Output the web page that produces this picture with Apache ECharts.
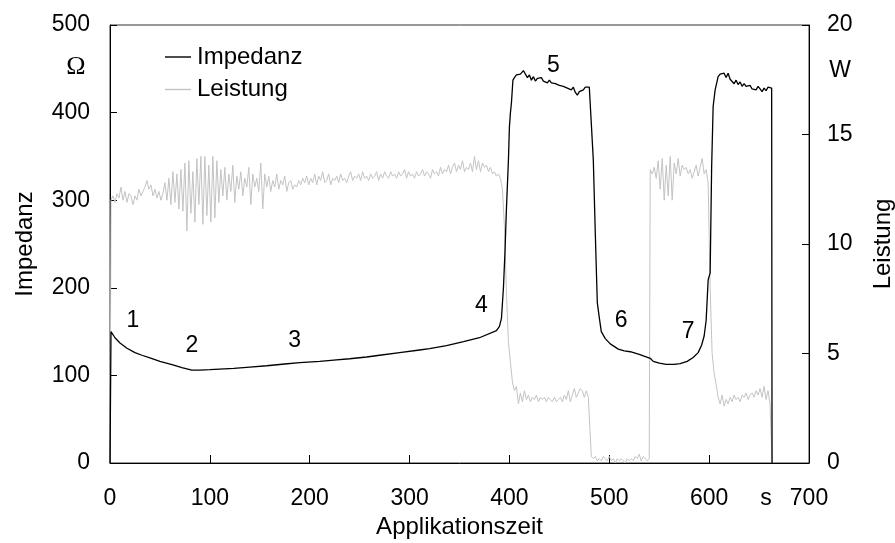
<!DOCTYPE html>
<html>
<head>
<meta charset="utf-8">
<script src="https://cdn.jsdelivr.net/npm/echarts@6/dist/echarts.min.js"></script>
<style>html,body{margin:0;padding:0;background:#fff;}#c{width:895px;height:543px;}</style>
</head>
<body>
<div id="c"></div>
<script>
// ---- data ----
const xTicks = [0, 100, 200, 300, 400, 500, 600, 700];
const impedanzZeit = [0,1,5,10,17,25,32,40,50,63,72,82,90,100,124,140,157,175,190,210,224,240,257,270,290,310,320,337,354,370,387,390,392,394,395.5,397,399,400,401,402,403.5,405,407,409,411,413,414,416,418,420,422,424,426,428,430,432,434,436,438,440,442,444,446,448,450,452,454,456,458,460,462,464,466,468,470,472,474,476,478,480,482,484,486,488,490,492,496,501,509,515,521,530,541,544,550,557,565,571,578,584,589,592.5,595,597,599,601,602.5,604,606,608,609,611,613,615,617,619,621,623,625,627,629,631,633,635,637,639,641,643,645,647,649,651,653,655,657,659,661,662.6,663];
const impedanzWert = [0,150,143,137,131,126,123,120,116,112,109,106,106,106.5,108,109.5,111,113,114.5,116,117.5,119,121,123,126,129,130.5,134,138.5,143,151,156,165,200,240,290,346,384,400,411,437,440,443,441,444,446,448,444,440,443,437,441,436,439,437,440,436,438,434,437,434,436,433,435,431,433,430,432,428,430,426,429,423,420,424,422,426,429,428,429,428,346,262,183,166,150,142,136,130,128,127,124,119.5,116,114,112.5,112.5,113.5,116,120.5,126,134.7,145,163,209,217,338,407,426,436,441,444,442,445,440,445,438,436,433,437,432,435,430,433,430,428,431,427,429,426,430,427,424,428,425,429,427,428,0];
const leistungZeit = [0,1,3,5,7,9,11,13,15,17,19,21,23,25,27,29,31,33,35,37,39,41,43,45,47,49,51,53,55,57,59,61,63,65,67,69,71,73,75,77,79,81,83,85,87,89,91,93,95,97,99,101,103,105,107,109,111,113,115,117,119,121,123,125,127,129,131,133,135,137,139,141,143,145,147,149,151,153,155,157,159,161,163,165,167,169,171,173,175,177,179,181,183,185,187,189,191,193,195,197,199,201,203,205,207,209,211,213,215,217,219,221,223,225,227,229,231,233,235,237,239,241,243,245,247,249,251,253,255,257,259,261,263,265,267,269,271,273,275,277,279,281,283,285,287,289,291,293,295,297,299,301,303,305,307,309,311,313,315,317,319,321,323,325,327,329,331,333,335,337,339,341,343,345,347,349,351,353,355,357,359,361,363,365,367,369,371,373,375,377,379,381,383,385,387,389,391,393,395,397,399,401,403,405,407,409,411,413,415,417,419,421,423,425,427,429,431,433,435,437,439,441,443,445,447,449,451,453,455,457,459,461,463,465,467,469,471,473,475,477,479,481,482,484,486,488,490,492,494,496,498,500,502,504,506,508,510,512,514,516,518,520,522,524,526,528,530,532,534,536,538,540,541,543,545,547,549,551,553,555,557,559,561,563,565,567,569,571,573,575,577,579,581,583,585,587,589,591,593,595,597,599,601,603,605,607,609,611,613,615,617,619,621,623,625,627,629,631,633,635,637,639,641,643,645,647,649,651,653,655,657,659,661,663,664];
const leistungWert = [0,12.0,12.2,11.9,12.3,12.1,12.6,12.0,12.4,11.9,12.3,12.2,11.8,12.2,12.0,12.5,12.2,12.4,12.6,12.9,12.5,12.7,12.2,12.5,12.1,12.4,12.0,12.3,12.8,12.0,13.0,11.8,13.3,11.9,13.2,11.6,13.4,11.5,13.7,10.6,13.8,11.4,13.3,11.0,13.9,11.8,14.0,10.9,14.0,11.3,13.6,11.0,14.0,11.2,13.8,11.9,13.4,12.2,13.5,12.0,13.2,12.4,13.6,11.9,13.1,12.5,13.3,12.2,13.0,12.6,13.5,11.8,13.2,12.6,13.0,12.4,13.7,11.6,13.2,12.6,13.1,12.4,12.9,12.6,13.2,12.5,12.9,12.7,13.1,12.4,12.8,12.9,12.5,12.7,12.6,12.9,12.7,13.0,12.8,13.1,12.7,13.0,12.8,13.2,12.7,13.1,12.9,13.3,12.8,12.9,13.2,12.7,13.0,12.9,13.1,12.8,13.2,12.9,13.0,12.8,13.1,13.3,12.9,13.1,13.0,13.2,12.9,13.3,13.0,13.1,12.9,13.2,13.0,13.1,13.3,12.9,13.2,13.0,13.3,13.1,13.0,13.3,13.1,13.2,13.0,13.3,13.1,13.2,13.4,13.0,13.3,13.1,13.2,13.0,13.3,13.1,13.2,13.4,13.1,13.3,13.2,13.0,13.4,13.2,13.3,13.1,13.5,13.2,13.4,13.3,13.6,13.2,13.5,13.7,13.3,13.6,13.4,13.8,13.3,13.5,13.4,13.7,13.3,14.0,13.4,13.8,13.3,13.7,13.5,13.6,13.3,13.5,13.2,13.3,13.1,13.2,13.0,12.5,10.8,7.8,5.5,4.6,3.7,3.3,3.5,2.7,3.2,2.8,3.3,2.9,3.1,2.8,3.0,2.9,3.1,2.8,3.0,2.9,3.0,2.8,3.0,2.9,2.8,3.0,2.8,2.9,3.0,2.8,3.1,2.9,3.3,2.8,3.1,3.4,3.0,3.2,3.4,3.3,3.0,3.3,3.0,3.0,0.3,0.2,0.3,0.1,0.2,0.1,0.3,0.2,0.1,0.3,0.1,0.2,0.0,0.2,0.1,0.2,0.1,0.0,0.2,0.1,0.2,0.1,0.3,0.2,0.4,0.1,0.3,0.2,0.1,0.2,13.4,13.2,13.5,13.0,13.8,12.5,13.9,12.0,13.6,12.2,14.0,12.0,13.7,13.2,13.9,13.1,13.6,13.4,13.5,13.2,13.4,13.0,13.3,13.6,13.1,13.5,13.9,13.2,13.4,12.8,8.0,5.0,4.1,3.6,3.0,2.7,3.1,2.6,2.9,2.7,3.0,2.8,3.1,2.9,3.0,2.8,3.1,3.0,3.2,2.9,3.1,3.2,3.0,3.3,3.1,3.4,3.0,3.5,2.9,3.3,2.7,0.1,0];
const markerText = ['1', '2', '3', '4', '5', '6', '7'];
const markerZeit = [23, 82, 185, 372, 444, 512, 579];
const markerImpedanz = [163, 134, 140, 180, 454, 162, 150];

function pairs(xs, ys) { return xs.map((x, i) => [x, ys[i]]); }

const FONT = 'Liberation Sans, Arial, sans-serif';
const TXT = { color: '#000', fontFamily: FONT };
const chart = echarts.init(document.getElementById('c'), null, { renderer: 'canvas' });
chart.setOption({
  animation: false,
  backgroundColor: '#fff',
  textStyle: { fontFamily: FONT, color: '#000' },
  grid: { left: 110, right: 86, top: 25, bottom: 80, containLabel: false, outerBoundsMode: 'none',
    show: true, borderColor: '#333', borderWidth: 1, backgroundColor: 'transparent' },
  legend: {
    data: [
      { name: 'Impedanz', icon: 'rect', itemStyle: { color: '#000' } },
      { name: 'Leistung', icon: 'rect', itemStyle: { color: '#c3c3c3' } }
    ],
    orient: 'vertical', left: 165, top: 45, padding: 0,
    itemWidth: 26, itemHeight: 1.4, itemGap: 8.5,
    textStyle: Object.assign({ fontSize: 24, padding: [0, 0, 0, 1] }, TXT)
  },
  xAxis: {
    type: 'value', min: 0, max: 700, interval: 100,
    name: 'Applikationszeit', nameLocation: 'middle', nameGap: 52,
    nameTextStyle: Object.assign({ fontSize: 24 }, TXT),
    axisLine: { lineStyle: { color: '#000', width: 1 } },
    axisTick: { inside: true, length: 8, lineStyle: { color: '#000' } },
    axisLabel: Object.assign({ fontSize: 23, margin: 24,
      formatter: v => xTicks.indexOf(v) >= 0 ? String(v) : '' }, TXT),
    splitLine: { show: false }
  },
  yAxis: [{
    type: 'value', min: 0, max: 500, interval: 100, position: 'left',
    name: 'Impedanz', nameLocation: 'middle', nameGap: 73, nameRotate: 90,
    nameTextStyle: Object.assign({ fontSize: 24 }, TXT),
    axisLine: { show: true, lineStyle: { color: '#000', width: 1 } },
    axisTick: { show: true, inside: true, length: 7, lineStyle: { color: '#000' } },
    axisLabel: Object.assign({ fontSize: 23, margin: 20 }, TXT),
    splitLine: { show: false }
  }, {
    type: 'value', min: 0, max: 20, interval: 5, position: 'right',
    name: 'Leistung', nameLocation: 'middle', nameGap: 62, nameRotate: 90,
    nameTextStyle: Object.assign({ fontSize: 24 }, TXT),
    axisLine: { show: true, lineStyle: { color: '#000', width: 1 } },
    axisTick: { show: true, inside: true, length: 7, lineStyle: { color: '#000' } },
    axisLabel: Object.assign({ fontSize: 23, margin: 18 }, TXT),
    splitLine: { show: false }
  }],
  series: [
    {
      name: 'Leistung', type: 'line', yAxisIndex: 1, showSymbol: false, symbol: 'none',
      lineStyle: { color: '#c3c3c3', width: 1 }, itemStyle: { color: '#c3c3c3' },
      data: pairs(leistungZeit, leistungWert), z: 2
    },
    {
      name: 'Impedanz', type: 'line', yAxisIndex: 0, showSymbol: false, symbol: 'none',
      lineStyle: { color: '#000', width: 1.3 }, itemStyle: { color: '#000' },
      data: pairs(impedanzZeit, impedanzWert), z: 3
    },
    {
      name: 'marker', type: 'scatter', yAxisIndex: 0, symbolSize: 0, silent: true,
      itemStyle: { opacity: 1 },
      data: markerZeit.map((t, i) => ({ value: [t, markerImpedanz[i]], label: { formatter: markerText[i] } })),
      label: Object.assign({ show: true, position: 'inside', fontSize: 23 }, TXT)
    },
    {
      name: 'einheitOhm', type: 'scatter', yAxisIndex: 0, symbolSize: 0, silent: true,
      itemStyle: { opacity: 1 },
      data: [[0, 452]],
      label: { show: true, position: 'inside', offset: [-34, 0], formatter: 'Ω', fontSize: 26, color: '#000', fontFamily: 'Liberation Serif, Times New Roman, serif' }
    },
    {
      name: 'einheitW', type: 'scatter', yAxisIndex: 1, symbolSize: 0, silent: true,
      itemStyle: { opacity: 1 },
      data: [[700, 17.9]],
      label: Object.assign({ show: true, position: 'inside', offset: [31, 0], formatter: 'W', fontSize: 23 }, TXT)
    },
    {
      name: 'einheitS', type: 'scatter', yAxisIndex: 0, symbolSize: 0, silent: true,
      itemStyle: { opacity: 1 },
      data: [[657, 0]],
      label: Object.assign({ show: true, position: 'inside', offset: [0, 36], formatter: 's', fontSize: 23 }, TXT)
    }
  ]
});
</script>
</body>
</html>
